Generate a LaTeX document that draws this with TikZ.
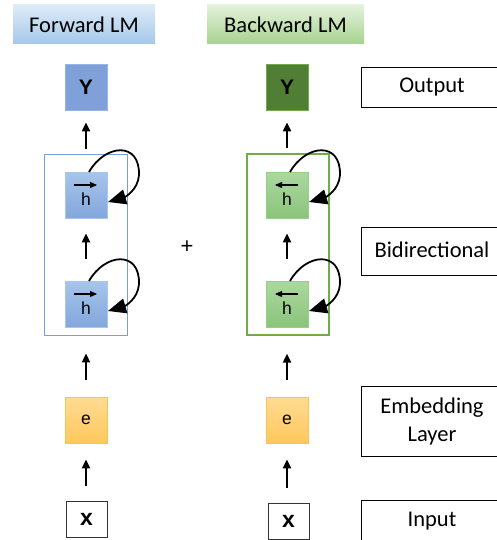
\documentclass[tikz,border=0pt]{standalone}
\usepackage{fontspec}
\setmainfont{Carlito}
\newfontfamily\glyphfont{Liberation Sans}
\usetikzlibrary{arrows.meta,calc,shadows}

\definecolor{fwdtop}{RGB}{221,235,248}
\definecolor{fwdbot}{RGB}{166,200,233}
\definecolor{bwdtop}{RGB}{228,242,220}
\definecolor{bwdbot}{RGB}{166,210,142}
\definecolor{yblue}{RGB}{127,160,217}
\definecolor{yblueline}{RGB}{150,180,228}
\definecolor{ygreen}{RGB}{80,126,52}
\definecolor{ygreenline}{RGB}{112,173,71}
\definecolor{hbluetop}{RGB}{166,197,236}
\definecolor{hbluebot}{RGB}{131,167,220}
\definecolor{hblueline}{RGB}{170,198,236}
\definecolor{hgreentop}{RGB}{172,216,160}
\definecolor{hgreenbot}{RGB}{138,196,122}
\definecolor{hgreenline}{RGB}{150,205,135}
\definecolor{etop}{RGB}{255,219,146}
\definecolor{ebot}{RGB}{255,200,92}
\definecolor{eline}{RGB}{250,196,80}
\definecolor{framblue}{RGB}{118,157,224}
\definecolor{framgreen}{RGB}{112,173,71}

\tikzset{
  header/.style={minimum height=39pt, inner sep=0pt, font=\fontsize{22.5}{26}\selectfont},
  cell/.style={minimum width=42pt, minimum height=46pt, inner sep=0pt},
  ycell/.style={cell, font=\glyphfont\bfseries\fontsize{21}{24}\selectfont},
  hcellf/.style={cell, draw=hblueline, line width=0.8pt, top color=hbluetop, bottom color=hbluebot},
  hcellb/.style={cell, draw=hgreenline, line width=0.8pt, top color=hgreentop, bottom color=hgreenbot},
  ecell/.style={cell, draw=eline, line width=0.8pt, top color=etop, bottom color=ebot,
    font=\glyphfont\fontsize{17.5}{20}\selectfont},
  xcell/.style={minimum width=41pt, minimum height=36pt, inner sep=0pt, draw=black!80, line width=0.8pt,
    fill=white, drop shadow={shadow xshift=1pt, shadow yshift=-1pt, fill=black!45, opacity=1},
    font=\glyphfont\bfseries\fontsize{23}{26}\selectfont},
  hletter/.style={inner sep=0pt, font=\glyphfont\fontsize{17.5}{20}\selectfont},
  layerbox/.style={draw=black, line width=0.9pt, minimum width=142pt, inner sep=0pt, align=center,
    font=\fontsize{22.5}{28}\selectfont},
  frame/.style={inner sep=0pt},
  up/.style={-{Triangle[length=9pt,width=8pt]}, line width=2pt},
  loopline/.style={-{Triangle[length=18pt,width=15pt]}, line width=1.8pt},
  vecline/.style={-{Triangle[length=7pt,width=6pt]}, line width=1.1pt},
}

% recurrent self-loop on a hidden-state cell
\newcommand\hloop[1]{%
  \draw[loopline] ($(#1.center)+(3,-23)$)
    .. controls ($(#1.center)+(19,-51)$) and ($(#1.center)+(54,-54)$) .. ($(#1.center)+(53,-20)$)
    .. controls ($(#1.center)+(52,-5)$) and ($(#1.center)+(39,2)$) .. ($(#1.center)+(22,7)$);}
% direction arrow over the letter h
\newcommand\vecright[1]{%
  \draw[vecline] ($(#1.center)+(-12,-10)$) -- ($(#1.center)+(11,-10)$);
  \node[hletter] at ($(#1.center)+(0,4)$) {h};}
\newcommand\vecleft[1]{%
  \draw[vecline] ($(#1.center)+(11,-10)$) -- ($(#1.center)+(-12,-10)$);
  \node[hletter] at ($(#1.center)+(0,4)$) {h};}

\begin{document}
\begin{tikzpicture}[x=1pt,y=-1pt]
\useasboundingbox (0,0) rectangle (497,540);
\clip (0,0) rectangle (497,540);

% column headers
\node[header, minimum width=142pt, top color=fwdtop, bottom color=fwdbot] (fwdhead) at (84,24.5) {Forward LM};
\node[header, minimum width=157pt, top color=bwdtop, bottom color=bwdbot] (bwdhead) at (285.5,24.5) {Backward LM};

% outputs
\node[ycell, fill=yblue, draw=yblueline, line width=0.8pt] (yf) at (86,87) {Y};
\node[ycell, fill=ygreen, draw=ygreenline, line width=0.8pt] (yb) at (287,87) {Y};

% recurrent layers
\node[frame, draw=framblue, line width=0.9pt, minimum width=83pt, minimum height=181pt] (framef) at (85.5,244.5) {};
\node[frame, draw=framgreen, line width=1.3pt, minimum width=82pt, minimum height=181pt] (frameb) at (288,244.5) {};

\node[hcellf] (h1f) at (86,195) {};
\node[hcellf] (h2f) at (86,304) {};
\node[hcellb] (h1b) at (287,195) {};
\node[hcellb] (h2b) at (287,304) {};
\vecright{h1f}
\vecright{h2f}
\vecleft{h1b}
\vecleft{h2b}
\hloop{h1f}
\hloop{h2f}
\hloop{h1b}
\hloop{h2b}

\node[font=\glyphfont\fontsize{22}{24}\selectfont, inner sep=0pt] (plus) at (187,247) {+};

% embeddings and inputs
\node[ecell] (ef) at (86,420) {e};
\node[ecell] (eb) at (287,420) {e};
\node[xcell] (xf) at (86.5,519) {x};
\node[xcell] (xb) at (288.5,521) {x};

% layer names
\node[layerbox, minimum height=40pt] (lout) at (432,87) {Output};
\node[layerbox, minimum height=48pt] (lbi) at (432,251) {\raisebox{3pt}{Bidirectional}};
\node[layerbox, minimum height=70pt] (lemb) at (432,421) {Embedding\\Layer};
\node[layerbox, minimum height=43pt] (lin) at (432,521.5) {Input};

% upward flow
\foreach \c/\y/\f/\e in {f/yf/framef/ef, b/yb/frameb/eb}{
  \draw[up, shorten <=5pt, shorten >=12pt] (\y.south |- \f.north) -- (\y.south);
  \draw[up, shorten <=17pt, shorten >=18pt] (\e.north) -- (\e.north |- \f.south);
  \draw[up, shorten <=15pt, shorten >=16pt] (x\c.north -| \e.north) -- (\e.south);
}
\draw[up, shorten <=22pt, shorten >=15pt] (h2f.north) -- (h1f.south);
\draw[up, shorten <=22pt, shorten >=15pt] (h2b.north) -- (h1b.south);
\end{tikzpicture}
\end{document}
